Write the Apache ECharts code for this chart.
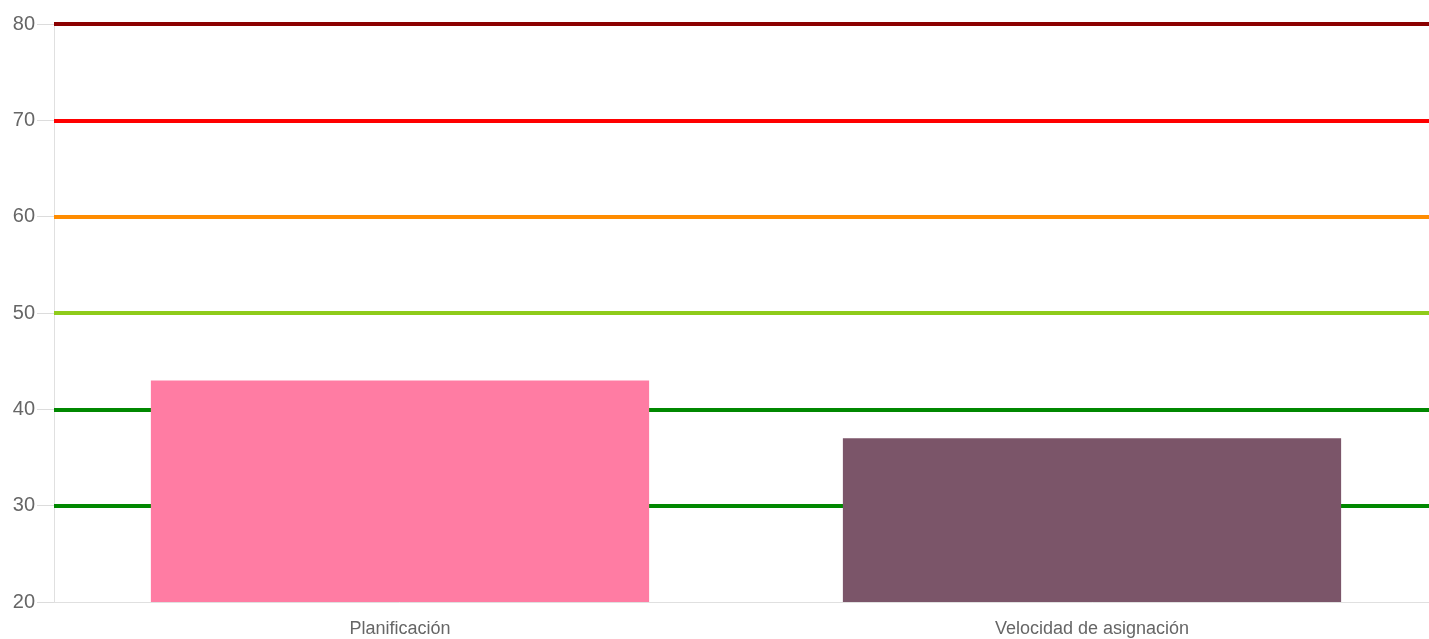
<!DOCTYPE html>
<html>
<head>
<meta charset="utf-8">
<script src="https://cdn.jsdelivr.net/npm/echarts@6/dist/echarts.min.js"></script>
<style>html,body{margin:0;padding:0;background:#fff;overflow:hidden}#c{width:1438px;height:639px}</style>
</head>
<body>
<div id="c"></div>
<script>
var categories = ['Planificación', 'Velocidad de asignación'];
var barValues = [43, 37];
var barColors = ['#FF7CA3', '#7B5569'];
var thresholdValues = [80, 70, 60, 50, 40, 30];
var thresholdColors = ['#8B0000', '#FF0000', '#FF8C00', '#8FCB1A', '#008800', '#008800'];
var yTicks = [20, 30, 40, 50, 60, 70, 80];

var chart = echarts.init(document.getElementById('c'), null, {renderer: 'canvas'});
chart.setOption({
  animation: false,
  grid: {left: 54, right: 0, top: 24, bottom: 37, containLabel: false},
  xAxis: {
    type: 'category',
    data: categories,
    axisLine: {show: true, lineStyle: {color: '#e0e0e0', width: 1}},
    axisTick: {show: false},
    axisLabel: {color: '#666', fontSize: 18, margin: 18, fontFamily: 'Liberation Sans, Arial, sans-serif'},
    splitLine: {show: false}
  },
  yAxis: {
    type: 'value',
    min: yTicks[0],
    max: yTicks[yTicks.length - 1],
    interval: 10,
    axisLine: {show: true, lineStyle: {color: '#e0e0e0', width: 1}},
    axisTick: {show: true, length: 17, lineStyle: {color: '#dcdcdc'}},
    axisLabel: {color: '#666', fontSize: 20, margin: 19, fontFamily: 'Liberation Sans, Arial, sans-serif'},
    splitLine: {show: false}
  },
  series: [
    {
      type: 'line',
      data: [],
      z: 1,
      silent: true,
      markLine: {
        symbol: 'none',
        silent: true,
        label: {show: false},
        data: thresholdValues.map(function (v, i) {
          return {yAxis: v, lineStyle: {color: thresholdColors[i], width: 4, type: 'solid'}};
        })
      }
    },
    {
      type: 'bar',
      z: 5,
      barWidth: '72%',
      data: barValues.map(function (v, i) {
        return {value: v, itemStyle: {color: barColors[i]}};
      })
    }
  ]
});
</script>
</body>
</html>
